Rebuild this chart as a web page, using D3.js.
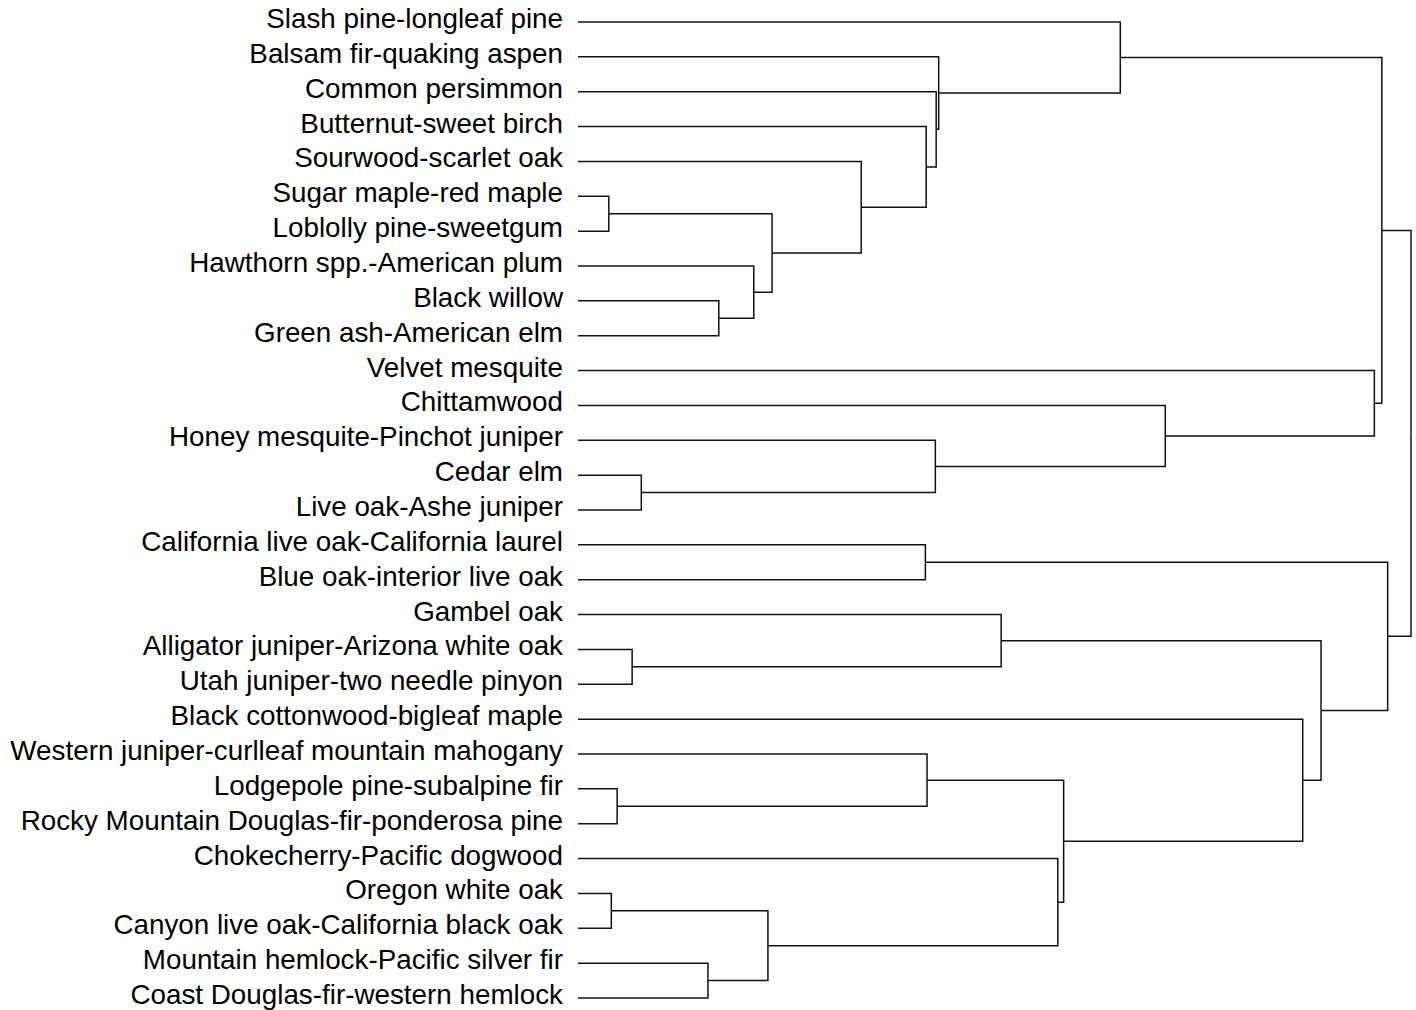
<!DOCTYPE html>
<html>
<head>
<meta charset="utf-8">
<script src="https://cdn.jsdelivr.net/npm/d3@7"></script>
<style>
body { margin: 0; background: #fff; }
</style>
</head>
<body>
<div id="chart"></div>
<script>
"use strict";

// leaf labels, top to bottom
var labels = [
    "Slash pine-longleaf pine",
    "Balsam fir-quaking aspen",
    "Common persimmon",
    "Butternut-sweet birch",
    "Sourwood-scarlet oak",
    "Sugar maple-red maple",
    "Loblolly pine-sweetgum",
    "Hawthorn spp.-American plum",
    "Black willow",
    "Green ash-American elm",
    "Velvet mesquite",
    "Chittamwood",
    "Honey mesquite-Pinchot juniper",
    "Cedar elm",
    "Live oak-Ashe juniper",
    "California live oak-California laurel",
    "Blue oak-interior live oak",
    "Gambel oak",
    "Alligator juniper-Arizona white oak",
    "Utah juniper-two needle pinyon",
    "Black cottonwood-bigleaf maple",
    "Western juniper-curlleaf mountain mahogany",
    "Lodgepole pine-subalpine fir",
    "Rocky Mountain Douglas-fir-ponderosa pine",
    "Chokecherry-Pacific dogwood",
    "Oregon white oak",
    "Canyon live oak-California black oak",
    "Mountain hemlock-Pacific silver fir",
    "Coast Douglas-fir-western hemlock"
];

// merge matrix like hclust: negative = leaf, positive = earlier merge
var merges = [
    [-6, -7], [-9, -10], [-8, 2], [1, 3], [-5, 4], [-4, 5], [-3, 6], [-2, 7], [-1, 8],
    [-14, -15], [-13, 10], [-12, 11], [-11, 12], [9, 13],
    [-16, -17], [-19, -20], [-18, 16], [-23, -24], [-22, 18],
    [-26, -27], [-28, -29], [20, 21], [-25, 22], [19, 23], [-21, 24],
    [17, 25], [15, 26], [14, 27]
];

var heights = [
    0.037, 0.169, 0.211, 0.233, 0.340, 0.418, 0.430, 0.433, 0.651,
    0.076, 0.429, 0.705, 0.956, 0.965,
    0.417, 0.065, 0.508, 0.047, 0.419,
    0.040, 0.156, 0.228, 0.576, 0.583, 0.870,
    0.892, 0.972, 1.000
];

function buildTree() {
    var nodes = [];
    merges.forEach(function(m, i) {
        var kids = m.map(function(k) {
            return k < 0 ? {name: labels[-k - 1], h: 0} : nodes[k - 1];
        });
        nodes.push({h: heights[i], children: kids});
    });
    return nodes[nodes.length - 1];
}

function dendrogram() {
    var w = 1416;
    var h = 1010;
    var top = 22, bottom = 998;
    var left = 578, right = 1411;

    var svg = d3.select("#chart")
                .append("svg")
                .attr("width", w)
                .attr("height", h);

    var root = d3.hierarchy(buildTree());

    // even leaf spacing, parents at mean of children
    d3.cluster()
        .nodeSize([1, 1])
        .separation(function() { return 1; })(root);

    var leaves = root.leaves();
    var y = d3.scaleLinear()
              .domain([leaves[0].x, leaves[leaves.length - 1].x])
              .range([top, bottom]);

    var x = d3.scaleLinear()
              .domain([0, d3.max(heights)])
              .range([left, right]);

    svg.append("g")
        .selectAll("path")
        .data(root.links())
        .enter()
        .append("path")
        .attr("d", function(d) {
            return "M" + x(d.target.data.h) + "," + y(d.target.x) +
                   "H" + x(d.source.data.h) +
                   "V" + y(d.source.x);
        })
        .attr("fill", "none")
        .attr("stroke", "#111")
        .attr("stroke-width", 1.5);

    svg.append("g")
        .selectAll("text")
        .data(leaves)
        .enter()
        .append("text")
        .attr("x", left - 15)
        .attr("y", function(d) { return y(d.x) + 6; })
        .attr("text-anchor", "end")
        .style("font-family", "'Liberation Sans', Arial, sans-serif")
        .style("font-size", "27.8px")
        .style("fill", "#000")
        .text(function(d) { return d.data.name; });
}

window.onload = dendrogram;
</script>
</body>
</html>
